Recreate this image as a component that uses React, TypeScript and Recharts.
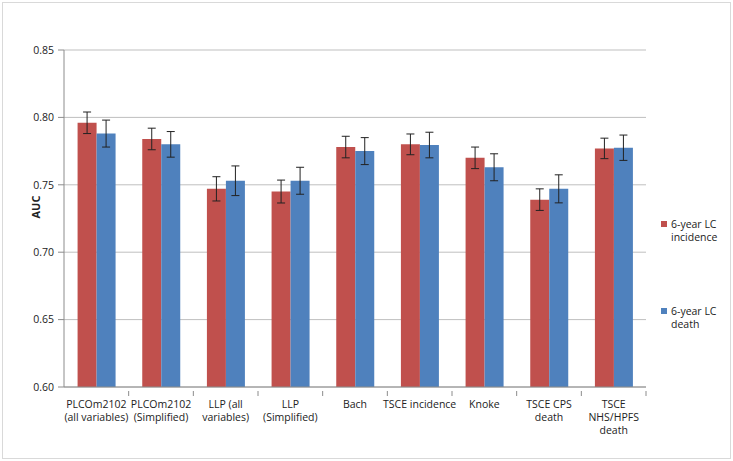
import { BarChart, Bar, XAxis, YAxis, CartesianGrid, ErrorBar } from 'recharts'

const categories = [
  'PLCOm2102\n(all variables)',
  'PLCOm2102\n(Simplified)',
  'LLP  (all\nvariables)',
  'LLP\n(Simplified)',
  'Bach',
  'TSCE incidence',
  'Knoke',
  'TSCE CPS\ndeath',
  'TSCE\nNHS/HPFS\ndeath',
]

const incidence = [0.796, 0.784, 0.747, 0.745, 0.778, 0.78, 0.77, 0.739, 0.777]
const incidenceErr = [0.008, 0.008, 0.009, 0.0085, 0.008, 0.0077, 0.008, 0.008, 0.0076]
const death = [0.788, 0.78, 0.753, 0.753, 0.775, 0.7795, 0.763, 0.747, 0.7775]
const deathErr = [0.01, 0.0095, 0.011, 0.01, 0.01, 0.0095, 0.01, 0.0104, 0.0094]

const yTicks = [0.6, 0.65, 0.7, 0.75, 0.8, 0.85]

const RED = '#C0504D'
const BLUE = '#4F81BD'
const FONT = "'Open Sans', sans-serif"

const data = categories.map((name, i) => ({
  name,
  incidence: incidence[i],
  incidenceErr: incidenceErr[i],
  death: death[i],
  deathErr: deathErr[i],
}))

const CAT_W = (646 - 64) / categories.length

function XTick(props: any) {
  const { x, y, payload } = props
  const lines = String(payload.value).split('\n')
  return (
    <g>
      <line x1={x + CAT_W / 2} y1={y - 4} x2={x + CAT_W / 2} y2={y + 1} stroke="#8C8C8C" />
      <text x={x} y={y} textAnchor="middle" fontFamily={FONT} fontSize={10.5} fill="#222">
        {lines.map((l, i) => (
          <tspan key={i} x={x} y={y + 9 + i * 13} dy="0.35em">{l}</tspan>
        ))}
      </text>
    </g>
  )
}

function LegendItem({ color, label, top }: { color: string, label: string[], top: number }) {
  return (
    <div style={{ position: 'absolute', left: 661, top, fontFamily: FONT, fontSize: 10.5, color: '#222', lineHeight: '13px' }}>
      <div style={{ position: 'absolute', left: 0, top: 3, width: 6, height: 6, background: color }} />
      <div style={{ marginLeft: 10 }}>
        {label.map((l, i) => <div key={i}>{l}</div>)}
      </div>
    </div>
  )
}

export default function App() {
  return (
    <div style={{ position: 'absolute', left: 0, top: 0, width: 733, height: 461, background: '#fff' }}>
      <div style={{ position: 'absolute', left: 2, top: 2, width: 727, height: 455, border: '1px solid #D9D9D9' }} />
      <BarChart
        width={733}
        height={461}
        data={data}
        margin={{ top: 50, right: 87, left: 0, bottom: 0 }}
        barGap={0}
        barCategoryGap="21%"
      >
        <CartesianGrid vertical={false} stroke="#BFBFBF" />
        <XAxis
          dataKey="name"
          height={74}
          interval={0}
          tick={<XTick />}
          tickLine={false}
          axisLine={{ stroke: '#8C8C8C' }}
        />
        <YAxis
          width={64}
          domain={[0.6, 0.85]}
          ticks={yTicks}
          allowDataOverflow
          tickFormatter={(v: number) => v.toFixed(2)}
          tick={{ fontFamily: FONT, fontSize: 10.5, fill: '#222' }}
          tickSize={6}
          tickMargin={4}
          tickLine={{ stroke: '#8C8C8C' }}
          axisLine={{ stroke: '#8C8C8C' }}
          label={{ value: 'AUC', angle: -90, position: 'insideLeft', offset: 36, fontFamily: FONT, fontSize: 11, fontWeight: 'bold', fill: '#222' }}
        />
        <Bar dataKey="incidence" fill={RED} isAnimationActive={false}>
          <ErrorBar dataKey="incidenceErr" width={4} stroke="#222" strokeWidth={1} />
        </Bar>
        <Bar dataKey="death" fill={BLUE} isAnimationActive={false}>
          <ErrorBar dataKey="deathErr" width={4} stroke="#222" strokeWidth={1} />
        </Bar>
      </BarChart>
      <LegendItem color={RED} label={['6-year LC', 'incidence']} top={218} />
      <LegendItem color={BLUE} label={['6-year LC', 'death']} top={305} />
    </div>
  )
}
